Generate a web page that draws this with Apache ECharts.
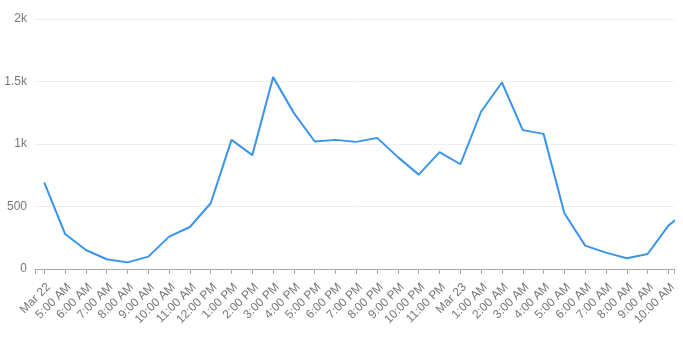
<!DOCTYPE html>
<html>
<head>
<meta charset="utf-8">
<script src="https://cdn.jsdelivr.net/npm/echarts@6/dist/echarts.min.js"></script>
<style>html,body{margin:0;padding:0;background:#fff}#c{width:683px;height:342px}</style>
</head>
<body>
<div id="c"></div>
<script>
var tickLabels = ['Mar 22','5:00 AM','6:00 AM','7:00 AM','8:00 AM','9:00 AM','10:00 AM','11:00 AM','12:00 PM','1:00 PM','2:00 PM','3:00 PM','4:00 PM','5:00 PM','6:00 PM','7:00 PM','8:00 PM','9:00 PM','10:00 PM','11:00 PM','Mar 23','1:00 AM','2:00 AM','3:00 AM','4:00 AM','5:00 AM','6:00 AM','7:00 AM','8:00 AM','9:00 AM','10:00 AM'];
var values = [691,280,152,78,53,99,259,336,526,1033,911,1535,1247,1020,1033,1017,1049,895,755,935,838,1260,1492,1111,1081,446,187,131,86,120,347,480];
var yTicks = [0,500,1000,1500,2000];

var HOUR = 3600000;
var start = Date.UTC(2020,2,22,4,0,0);
var data = values.map(function(v,i){ return [start + i*HOUR, v]; });

var chart = echarts.init(document.getElementById('c'));
chart.setOption({
  animation:false,
  useUTC:true,
  grid:{left:35,right:9,top:19,bottom:73,containLabel:false},
  xAxis:{
    type:'time',
    min:start - 0.447*HOUR,
    max:start + 30.27*HOUR,
    minInterval:HOUR,
    maxInterval:HOUR,
    axisLine:{lineStyle:{color:'#aaa'}},
    axisTick:{show:true,length:5,lineStyle:{color:'#aaa'}},
    splitLine:{show:false},
    axisLabel:{
      rotate:45,color:'#777',fontSize:12,fontFamily:'Arial, Liberation Sans, sans-serif',
      margin:12,verticalAlign:'top',
      hideOverlap:false,showMinLabel:true,showMaxLabel:true,
      formatter:function(v){
        var i=(v-start)/HOUR;
        if(Math.abs(i-Math.round(i))>1e-6) return '';
        i=Math.round(i);
        return tickLabels[i]!==undefined?tickLabels[i]:'';
      }
    }
  },
  yAxis:{
    type:'value',min:yTicks[0],max:yTicks[yTicks.length-1],interval:500,
    axisLine:{show:false},axisTick:{show:false},
    splitLine:{lineStyle:{color:'#eee'}},
    axisLabel:{color:'#777',fontSize:12,fontFamily:'Arial, Liberation Sans, sans-serif',
      formatter:function(v){return v>=1000?(v/1000)+'k':String(v);}}
  },
  series:[{
    type:'line',data:data,showSymbol:false,clip:true,
    lineStyle:{color:'#3a95ea',width:2},itemStyle:{color:'#3a95ea'}
  }]
});
</script>
</body>
</html>
